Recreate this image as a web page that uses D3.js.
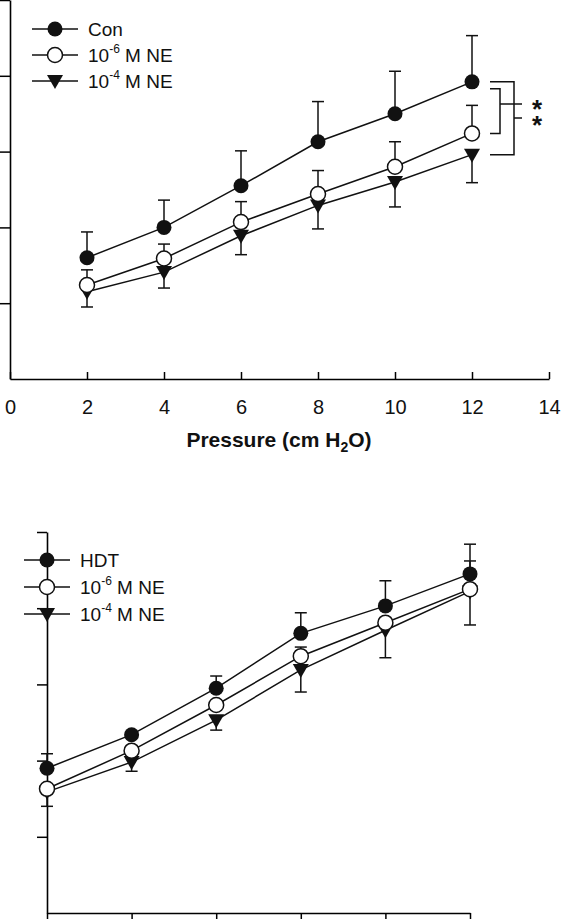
<!DOCTYPE html>
<html><head><meta charset="utf-8">
<script src="https://cdn.jsdelivr.net/npm/d3@7"></script>
<style>body{margin:0;background:#fff}text{font-family:"Liberation Sans",Arial,sans-serif;fill:#111}</style>
</head><body><div id="chart"></div>
<script>
var pressures = [2, 4, 6, 8, 10, 12];
var xTicks = [0, 2, 4, 6, 8, 10, 12, 14];

// top panel (values in y-tick units)
var conMean = [1.60, 2.00, 2.55, 3.13, 3.50, 3.92];
var conErr = [0.34, 0.36, 0.46, 0.53, 0.56, 0.61];
var ne6Mean = [1.24, 1.59, 2.07, 2.44, 2.80, 3.24];
var ne6Err = [0.20, 0.19, 0.27, 0.31, 0.33, 0.37];
var ne4Mean = [1.15, 1.41, 1.89, 2.29, 2.60, 2.96];
var ne4Err = [0.20, 0.21, 0.25, 0.31, 0.33, 0.37];

// bottom panel
var hdtMean = [1.90, 2.34, 2.95, 3.67, 4.03, 4.45];
var hdtErr = [0.19, 0.00, 0.16, 0.27, 0.33, 0.39];
var hne6Mean = [1.63, 2.13, 2.73, 3.37, 3.81, 4.25];
var hne6Err = [0.05, 0.05, 0.05, 0.12, 0.05, 0.37];
var hne4Mean = [1.59, 1.98, 2.53, 3.19, 3.71, 4.22];
var hne4Err = [0.19, 0.12, 0.13, 0.29, 0.36, 0.44];

var svg = d3.select("#chart").append("svg").attr("width", 561).attr("height", 919);

function triangle(g, x, y) {
    g.append("path").attr("d", "M" + (x - 8) + "," + (y - 6) + "L" + (x + 8) + "," + (y - 6) + "L" + x + "," + (y + 8) + "Z")
        .attr("fill", "#111");
}
function marker(g, kind, x, y) {
    if (kind == "fill") g.append("circle").attr("cx", x).attr("cy", y).attr("r", 7.5).attr("fill", "#111");
    else if (kind == "open") g.append("circle").attr("cx", x).attr("cy", y).attr("r", 7.5).attr("fill", "#fff").attr("stroke", "#111").attr("stroke-width", 1.5);
    else triangle(g, x, y);
}

function panel(cfg) {
    var g = svg.append("g");
    var x = d3.scaleLinear().domain(cfg.xDomain).range(cfg.xRange);
    var y = d3.scaleLinear().domain([0, 5]).range([cfg.base, cfg.base - 5 * cfg.unit]);

    g.append("g").attr("transform", "translate(0," + cfg.base + ")")
        .call(d3.axisBottom(x).tickValues(cfg.ticks).tickSize(cfg.tickDown ? 8 : 7).tickSizeOuter(0).tickFormat(cfg.labels ? d3.format("d") : ""))
        .call(function (a) {
            a.attr("font-size", 20);
            a.select(".domain").attr("stroke-width", 1.6);
            a.selectAll(".tick line").attr("stroke-width", 1.5);
            if (!cfg.tickDown) a.selectAll(".tick line").attr("y2", -7);
            a.selectAll("text").attr("dy", "1.25em").style("font-family", "Liberation Sans, Arial");
        });
    g.append("g").attr("transform", "translate(" + cfg.xRange[0] + ",0)")
        .call(d3.axisLeft(y).tickValues([1, 2, 3, 4, 5]).tickSize(10).tickSizeOuter(0).tickFormat(""))
        .call(function (a) {
            a.select(".domain").attr("stroke-width", 1.6);
            a.selectAll(".tick line").attr("stroke-width", 1.5);
        });

    var line = d3.line().x(function (d) { return x(d[0]); }).y(function (d) { return y(d[1]); });
    cfg.series.forEach(function (s) {
        pressures.forEach(function (p, i) {
            if (s.err[i] <= 0) return;
            var y0 = y(s.mean[i]), y1 = y(s.mean[i] + s.dir * s.err[i]);
            g.append("line").attr("x1", x(p)).attr("x2", x(p)).attr("y1", y0).attr("y2", y1).attr("stroke", "#111").attr("stroke-width", 1.5);
            g.append("line").attr("x1", x(p) - 6).attr("x2", x(p) + 6).attr("y1", y1).attr("y2", y1).attr("stroke", "#111").attr("stroke-width", 1.5);
        });
    });
    cfg.series.forEach(function (s) {
        g.append("path").datum(pressures.map(function (p, i) { return [p, s.mean[i]]; }))
            .attr("d", line).attr("fill", "none").attr("stroke", "#111").attr("stroke-width", 1.5);
    });
    cfg.series.slice().reverse().forEach(function (s) {
        pressures.forEach(function (p, i) { marker(g, s.kind, x(p), y(s.mean[i])); });
    });

    // legend
    cfg.series.forEach(function (s, i) {
        var ly = cfg.legY + i * cfg.legGap;
        g.append("line").attr("x1", cfg.legX).attr("x2", cfg.legX + 46).attr("y1", ly).attr("y2", ly).attr("stroke", "#111").attr("stroke-width", 1.5);
        marker(g, s.kind, cfg.legX + 23, ly);
        var t = g.append("text").attr("x", cfg.legX + 56).attr("y", ly + 7).attr("font-size", 19);
        if (s.exp) {
            t.append("tspan").text("10");
            t.append("tspan").attr("font-size", 12).attr("dy", -9).text(s.exp);
            t.append("tspan").attr("dy", 9).text(" M NE");
        } else t.text(s.name);
    });
    return { x: x, y: y, g: g };
}

var topP = panel({
    xDomain: [0, 14], xRange: [10, 549], ticks: xTicks, labels: true, base: 379, unit: 75.8,
    legX: 32, legY: 29, legGap: 26,
    series: [
        { name: "Con", kind: "fill", mean: conMean, err: conErr, dir: 1 },
        { exp: "-6", kind: "open", mean: ne6Mean, err: ne6Err, dir: 1 },
        { exp: "-4", kind: "tri", mean: ne4Mean, err: ne4Err, dir: -1 }
    ]
});
var tg = topP.g;
function path(g, d) { g.append("path").attr("d", d).attr("fill", "none").attr("stroke", "#111").attr("stroke-width", 1.5); }
// significance brackets (top)
path(tg, "M490," + topP.y(conMean[5]) + "H514V" + topP.y(ne4Mean[5]) + "H490");
path(tg, "M490," + (topP.y(conMean[5]) + 7) + "H500V" + topP.y(ne6Mean[5]) + "H490");
path(tg, "M514,118H522");
path(tg, "M500,104H522");
tg.append("text").attr("x", 537).attr("y", 118).attr("text-anchor", "middle").attr("font-size", 26).attr("font-weight", "bold").text("*");
tg.append("text").attr("x", 537).attr("y", 134).attr("text-anchor", "middle").attr("font-size", 26).attr("font-weight", "bold").text("*");
var title = tg.append("text").attr("x", 279).attr("y", 447).attr("text-anchor", "middle").attr("font-size", 21).attr("font-weight", "bold");
title.append("tspan").text("Pressure (cm H");
title.append("tspan").attr("font-size", 14).attr("dy", 5).text("2");
title.append("tspan").attr("dy", -5).text("O)");

var botP = panel({
    xDomain: [2, 12], xRange: [47, 470], ticks: pressures, labels: false, tickDown: true, base: 913, unit: 76.2,
    legY: 560, legX: 24, legGap: 27,
    series: [
        { name: "HDT", kind: "fill", mean: hdtMean, err: hdtErr, dir: 1 },
        { exp: "-6", kind: "open", mean: hne6Mean, err: hne6Err, dir: 1 },
        { exp: "-4", kind: "tri", mean: hne4Mean, err: hne4Err, dir: -1 }
    ]
});
</script></body></html>
